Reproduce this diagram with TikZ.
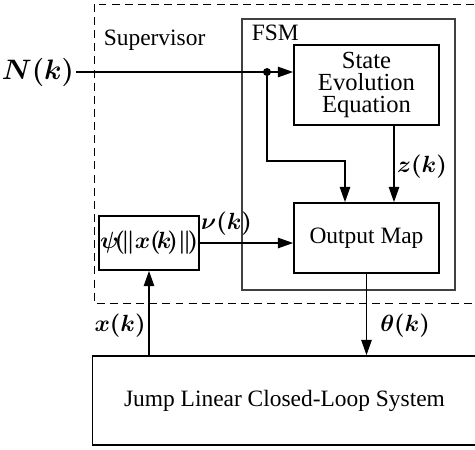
\documentclass[tikz,border=0pt]{standalone}
\usepackage{fontspec}
\setmainfont{Liberation Serif}
\usepackage{amsmath,bm}
\usepackage{tikz}
\usetikzlibrary{arrows.meta,positioning,calc}
\tikzset{
  every picture/.append style={line width=0.7pt},
  every node/.append style={font=\normalsize},
}
\tikzset{
  block/.style={draw, align=center, inner sep=2pt},
  arrow/.style={-{Triangle[length=6.5pt,width=4.4pt]}},
  frame/.style={draw, dashed, dash pattern=on 3.4pt off 2.2pt, line width=0.4pt}
}

\begin{document}
\begin{tikzpicture}[
  x=0.015cm, y=-0.015cm,
  sigtext/.style={inner sep=1pt},
  fsmframe/.style={draw=black!75, line width=0.45pt},
  dot/.style={circle, fill, inner sep=0pt, minimum size=3.4pt},
]
% --- Canvas ---
\clip (0,0) rectangle (475,449);

% --- Geometry ---
\def\ysig{72}    % y of the N(k) line
\def\ybranch{161} % y of the branch to the output map

% --- Frames ---
\draw[frame] (94,4) rectangle (477,303);
\draw[fsmframe] (242,19) rectangle (455,290);
\node[anchor=west, inner sep=0pt] (suplabel) at (103,40) {Supervisor};
\node[anchor=west, inner sep=0pt] (fsmlabel) at (251,33) {FSM};

% --- Blocks ---
\node[block, minimum width=2.175cm, minimum height=1.2cm,
  font=\fontsize{10.5}{9.4}\selectfont] (stateeq) at (366.5,85)
  {State\\Evolution\\Equation};
\node[block, minimum width=2.175cm, minimum height=1.05cm] (outmap) at (366.5,238) {Output Map};
\node[block, minimum width=1.38cm, minimum height=0.81cm, inner sep=0.5pt] (psibox) at (149,243)
  {$\bm{\psi\!(\!\|x(\!k\!)\|\!)}$};
\node[block, minimum width=5.76cm, minimum height=1.335cm] (plant) at (284.5,400.5)
  {Jump Linear Closed-Loop System};

% --- Signals ---
\node[anchor=east, inner sep=0.5pt, font=\fontsize{11.5}{13}\selectfont] (nin) at (76,\ysig) {$\bm{N(k)}$};
\coordinate (junction) at (267,\ysig);
\coordinate (bend) at (267,\ybranch);
\coordinate (zx) at (394,0);
\coordinate (bx) at (345,0);

\draw[arrow] (nin.east) -- (junction) -- (junction -| stateeq.west);
\node[dot] at (junction) {};
\draw[arrow] (junction) -- (bend) -- (bend -| bx) -- (outmap.north -| bx);
\draw[arrow] (stateeq.south -| zx) -- (outmap.north -| zx);
\draw[arrow] (psibox.east) -- (psibox.east -| outmap.west);
\draw[arrow] (outmap.south) -- (outmap.south |- plant.north);
\draw[arrow] (psibox.south |- plant.north) -- (psibox.south);

% --- Labels ---
\node[sigtext] (zlabel) at (422,167) {$\bm{z(k)}$};
\node[sigtext, anchor=south west] (nulabel) at (198,239) {$\bm{\nu(k)}$};
\node[sigtext] (thlabel) at (405,326) {$\bm{\theta(k)}$};
\node[sigtext] (xlabel) at (120,326) {$\bm{x(k)}$};

\end{tikzpicture}
\end{document}
